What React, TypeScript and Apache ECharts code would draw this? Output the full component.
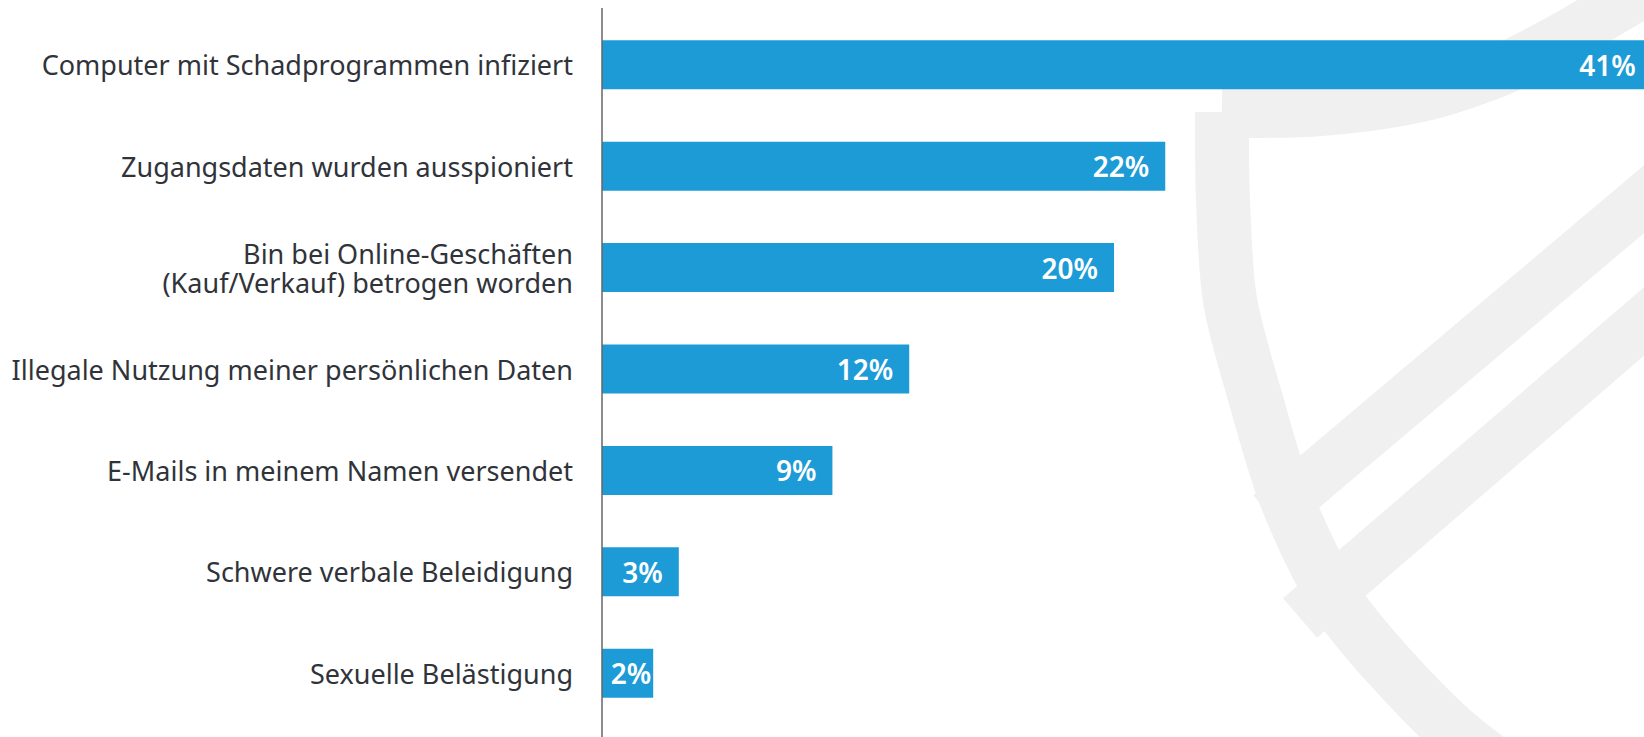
import React, { useEffect, useRef } from "react";
import * as echarts from "echarts";

const categories: string[] = [
  "Computer mit Schadprogrammen infiziert",
  "Zugangsdaten wurden ausspioniert",
  "Bin bei Online-Geschäften\n(Kauf/Verkauf) betrogen worden",
  "Illegale Nutzung meiner persönlichen Daten",
  "E-Mails in meinem Namen versendet",
  "Schwere verbale Beleidigung",
  "Sexuelle Belästigung",
];

const values: number[] = [41, 22, 20, 12, 9, 3, 2];

const BAR_COLOR = "#1d9bd7";
const WATERMARK = "#f0f0f0";
const FONT = "Noto Sans";

export default function App() {
  const ref = useRef<HTMLDivElement>(null);

  useEffect(() => {
    if (!ref.current) return;
    const chart = echarts.init(ref.current, undefined, { renderer: "svg" });

    const shieldOutline = [
      [1222, 112], [1320, 110], [1420, 96], [1500, 70], [1560, 40], [1620, 5], [1680, -30],
    ];
    const shieldSide = [
      [1222, 112], [1223, 200], [1230, 300], [1256, 400], [1287, 500], [1336, 600],
      [1390, 667], [1460, 737], [1560, 810],
    ];
    const stripe1 = [[1270, 515], [1720, 135]];
    const stripe2 = [[1300, 618], [1720, 256]];

    const seriesData = values.map((v) => ({
      value: v,
      label: v < 3 ? { distance: 2 } : { distance: 16 },
    }));

    chart.setOption({
      animation: false,
      backgroundColor: "#ffffff",
      graphic: [
        {
          type: "polyline",
          z: -10,
          silent: true,
          shape: { points: shieldOutline, smooth: 0.3 },
          style: { stroke: WATERMARK, lineWidth: 52, fill: null },
        },
        {
          type: "polyline",
          z: -10,
          silent: true,
          shape: { points: shieldSide, smooth: 0.3 },
          style: { stroke: WATERMARK, lineWidth: 54, fill: null },
        },
        {
          type: "polyline",
          z: -10,
          silent: true,
          shape: { points: stripe1 },
          style: { stroke: WATERMARK, lineWidth: 52, fill: null },
        },
        {
          type: "polyline",
          z: -10,
          silent: true,
          shape: { points: stripe2 },
          style: { stroke: WATERMARK, lineWidth: 52, fill: null },
        },
        {
          type: "line",
          z: 10,
          silent: true,
          shape: { x1: 602, y1: 8, x2: 602, y2: 737 },
          style: { stroke: "#666666", lineWidth: 1.5 },
        },
      ],
      grid: {
        left: 602,
        right: 0,
        top: 14,
        bottom: 13,
        containLabel: false,
        outerBoundsMode: "none",
      },
      xAxis: {
        type: "value",
        min: 0,
        max: 40.7,
        show: false,
      },
      yAxis: {
        type: "category",
        data: categories,
        inverse: true,
        axisLine: { show: false },
        axisTick: { show: false },
        splitLine: { show: false },
        axisLabel: {
          margin: 29,
          fontSize: 27,
          lineHeight: 29,
          color: "#30343a",
          fontFamily: FONT,
          align: "right",
        },
      },
      series: [
        {
          type: "bar",
          data: seriesData,
          barWidth: 49,
          clip: false,
          itemStyle: { color: BAR_COLOR },
          label: {
            show: true,
            position: "insideRight",
            distance: 16,
            formatter: "{c}%",
            color: "#ffffff",
            fontSize: 28,
            fontWeight: 600,
            fontFamily: FONT,
          },
        },
      ],
    });

    return () => chart.dispose();
  }, []);

  return (
    <div
      ref={ref}
      style={{ position: "fixed", left: 0, top: 0, width: 1644, height: 737 }}
    />
  );
}
